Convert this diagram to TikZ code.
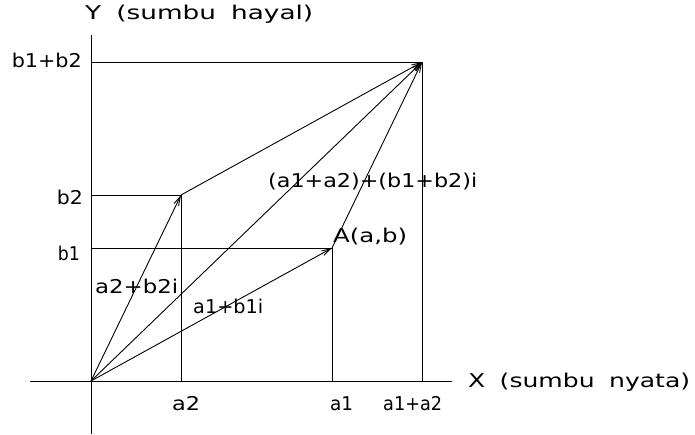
\documentclass[tikz,border=0pt]{standalone}
\usepackage{graphicx}
\usepackage{fontspec}
\setmainfont{DejaVu Sans}[WordSpace=1.8]
\usetikzlibrary{arrows.meta}
\newcommand{\fw}[2]{\resizebox{#1pt}{\height}{#2}}
\begin{document}
\begin{tikzpicture}[x=1pt,y=-1pt,
  ln/.style={line width=0.9pt,black},
  vec/.style={ln,-{Straight Barb[length=9pt,width=5pt,line width=0.9pt]}},
  lbl/.style={inner sep=0pt,font=\fontsize{19}{19}\selectfont}]
\useasboundingbox (0,0) rectangle (695,434);
% points
\coordinate (O) at (91,381);
\coordinate (P2) at (181,195);
\coordinate (P1) at (332,248);
\coordinate (S) at (422,62);
\coordinate (yb) at (91,434);
\coordinate (yt) at (91,35);
\coordinate (xl) at (30,381);
\coordinate (xr) at (452,381);
\coordinate (Ys) at (91,62);
\coordinate (Y2) at (91,195);
\coordinate (Y1) at (91,248);
\coordinate (X2) at (181,381);
\coordinate (X1) at (332,381);
\coordinate (XS) at (422,381);
% axes
\draw[ln] (yb) -- (yt);
\draw[ln] (xl) -- (xr);
% projections
\draw[ln] (Ys) -- (S) -- (XS);
\draw[ln] (Y2) -- (P2) -- (X2);
\draw[ln] (Y1) -- (P1) -- (X1);
% vectors
\draw[vec] (O) -- (P2);
\draw[vec] (O) -- (P1);
\draw[vec] (O) -- (S);
\draw[vec] (P2) -- (S);
\draw[vec] (P1) -- (S);
% labels
\node[lbl,anchor=base west] (ylab) at (85,19) {\fw{228}{Y (sumbu hayal)}};
\node[lbl,anchor=base west] (xlab) at (468,387) {\fw{222}{X (sumbu nyata)}};
\node[lbl,anchor=base east] (lbs) at (82,67) {\fw{70}{b1+b2}};
\node[lbl,anchor=base east] (lb2) at (83,204) {\fw{26}{b2}};
\node[lbl,anchor=base east] (lb1) at (80,260) {\fw{22}{b1}};
\node[lbl,anchor=base west] (la2) at (172,410) {\fw{28}{a2}};
\node[lbl,anchor=base west] (la1) at (330,410) {\fw{23}{a1}};
\node[lbl,anchor=base west] (las) at (383,410) {\fw{59}{a1+a2}};
\node[lbl,anchor=base west] (v2) at (95,293) {\fw{83}{a2+b2i}};
\node[lbl,anchor=base west] (v1) at (193,313) {\fw{70}{a1+b1i}};
\node[lbl,anchor=base west] (A) at (333,242) {\fw{74}{A(a,b)}};
\node[lbl,anchor=base west] (vs) at (268,187) {\fw{209}{(a1+a2)+(b1+b2)i}};
\end{tikzpicture}
\end{document}
